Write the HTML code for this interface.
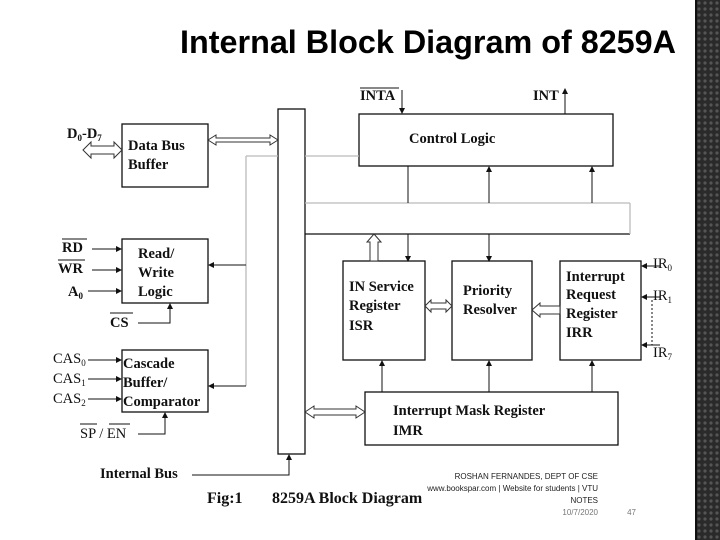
<!DOCTYPE html>
<html><head><meta charset="utf-8"><style>
html,body{margin:0;padding:0;background:#fff;width:720px;height:540px;overflow:hidden}
svg{display:block}
.t{font-family:"Liberation Serif",serif;font-weight:bold;font-size:14.5px;fill:#111}
</style></head><body>
<svg width="720" height="540" viewBox="0 0 720 540" xmlns="http://www.w3.org/2000/svg">
<defs>
<pattern id="p" width="6" height="6" patternUnits="userSpaceOnUse">
<rect width="6" height="6" fill="#2a2a2a"/><circle cx="3" cy="3" r="1.6" fill="#555"/></pattern>
<marker id="a" markerWidth="6" markerHeight="6" refX="5" refY="3" orient="auto"><path d="M0,0 L6,3 L0,6z" fill="#111"/></marker>
</defs>
<rect x="697" y="0" width="23" height="540" fill="url(#p)"/>
<rect x="695" y="0" width="2" height="540" fill="#111"/>
<text x="428" y="53" text-anchor="middle" font-family="Liberation Sans,sans-serif" font-size="32" font-weight="bold" fill="#000" textLength="496" lengthAdjust="spacingAndGlyphs">Internal Block Diagram of 8259A</text>

<g fill="none" stroke="#111" stroke-width="1.3">
<rect x="122" y="124" width="86" height="63"/>
<rect x="122" y="239" width="86" height="64"/>
<rect x="122" y="350" width="86" height="62"/>
<rect x="278" y="109" width="27" height="345"/>
<rect x="359" y="114" width="254" height="52"/>
<rect x="343" y="261" width="82" height="99"/>
<rect x="452" y="261" width="80" height="99"/>
<rect x="560" y="261" width="81" height="99"/>
<rect x="365" y="392" width="253" height="53"/>
<line x1="305" y1="234" x2="630" y2="234"/>
</g>
<g fill="none" stroke="#bbb" stroke-width="1.3">
<line x1="305" y1="203" x2="630" y2="203"/>
<line x1="630" y1="203" x2="630" y2="234"/>
<line x1="305" y1="156" x2="359" y2="156"/>
<line x1="246" y1="156" x2="278" y2="156"/>
<line x1="246" y1="156" x2="246" y2="386"/>
</g>
<g stroke="#111" stroke-width="1" fill="none" marker-end="url(#a)">
<line x1="246" y1="265" x2="209" y2="265"/>
<line x1="246" y1="386" x2="209" y2="386"/>
<line x1="408" y1="234" x2="408" y2="261"/>
<line x1="489" y1="234" x2="489" y2="261"/>
<line x1="489" y1="203" x2="489" y2="167"/>
<line x1="592" y1="203" x2="592" y2="167"/>
<line x1="382" y1="392" x2="382" y2="361"/>
<line x1="489" y1="392" x2="489" y2="361"/>
<line x1="592" y1="392" x2="592" y2="361"/>
<line x1="402" y1="90" x2="402" y2="113"/>
<line x1="565" y1="114" x2="565" y2="89"/>
<line x1="92" y1="249" x2="121" y2="249"/>
<line x1="92" y1="270" x2="121" y2="270"/>
<line x1="88" y1="291" x2="121" y2="291"/>
<polyline points="138,323 170,323 170,304"/>
<polyline points="138,434 165,434 165,413"/>
<polyline points="192,475 289,475 289,455"/>
<line x1="88" y1="360" x2="121" y2="360"/>
<line x1="88" y1="379" x2="121" y2="379"/>
<line x1="88" y1="399" x2="121" y2="399"/>
<line x1="660" y1="266" x2="642" y2="266"/>
<line x1="660" y1="297" x2="642" y2="297"/>
<line x1="660" y1="345" x2="642" y2="345"/>
</g>
<line x1="408" y1="166" x2="408" y2="203" stroke="#111"/>
<line x1="652" y1="300" x2="652" y2="345" stroke="#111" stroke-dasharray="2,2"/>
<g fill="#fff" stroke="#333" stroke-width="1">
<path d="M208,140 l8,-5 v3 h54 v-3 l8,5 l-8,5 v-3 h-54 v3z"/>
<path d="M83,150 l8,-8 v4 h23 v-4 l8,8 l-8,8 v-4 h-23 v4z"/>
<path d="M305,412 l9,-6 v3 h42 v-3 l9,6 l-9,6 v-3 h-42 v3z"/>
<path d="M425,306 l6,-6 v3 h15 v-3 l6,6 l-6,6 v-3 h-15 v3z"/>
<path d="M532,310 l8,-7 v3 h20 v8 h-20 v3z"/>
<path d="M374,234 l7,8 h-3 v19 h-8 v-19 h-3z"/>
</g>
<g class="t">
<text x="67" y="138">D<tspan font-size="9" dy="3">0</tspan><tspan dy="-3">-D</tspan><tspan font-size="9" dy="3">7</tspan></text>
<text x="128" y="150">Data Bus</text><text x="128" y="169">Buffer</text>
<text x="138" y="258">Read/</text><text x="138" y="277">Write</text><text x="138" y="296">Logic</text>
<text x="62" y="252">RD</text><line x1="62" y1="239" x2="87" y2="239" stroke="#111"/>
<text x="58" y="273">WR</text><line x1="58" y1="260" x2="85" y2="260" stroke="#111"/>
<text x="68" y="296">A<tspan font-size="9" dy="3">0</tspan></text>
<text x="110" y="327">CS</text><line x1="110" y1="313" x2="133" y2="313" stroke="#111"/>
<text x="123" y="368">Cascade</text><text x="123" y="387">Buffer/</text><text x="123" y="406">Comparator</text>
<text x="53" y="363" font-weight="normal">CAS<tspan font-size="9" dy="3">0</tspan></text>
<text x="53" y="383" font-weight="normal">CAS<tspan font-size="9" dy="3">1</tspan></text>
<text x="53" y="403" font-weight="normal">CAS<tspan font-size="9" dy="3">2</tspan></text>
<text x="80" y="438" font-weight="normal">SP / EN</text>
<line x1="80" y1="424" x2="97" y2="424" stroke="#111"/><line x1="109" y1="424" x2="130" y2="424" stroke="#111"/>
<text x="100" y="478">Internal Bus</text>
<text x="360" y="100">INTA</text><line x1="360" y1="88" x2="399" y2="88" stroke="#111"/>
<text x="533" y="100">INT</text>
<text x="409" y="143">Control Logic</text>
<text x="349" y="291">IN Service</text><text x="349" y="310">Register</text><text x="349" y="330">ISR</text>
<text x="463" y="295">Priority</text><text x="463" y="314">Resolver</text>
<text x="566" y="281">Interrupt</text><text x="566" y="299">Request</text><text x="566" y="318">Register</text><text x="566" y="337">IRR</text>
<text x="393" y="415">Interrupt Mask Register</text><text x="393" y="435">IMR</text>
<text x="653" y="268" font-weight="normal">IR<tspan font-size="9" dy="3">0</tspan></text>
<text x="653" y="300" font-weight="normal">IR<tspan font-size="9" dy="3">1</tspan></text>
<text x="653" y="357" font-weight="normal">IR<tspan font-size="9" dy="3">7</tspan></text>
<text x="207" y="503" font-size="16">Fig:1</text><text x="272" y="503" font-size="16">8259A  Block Diagram</text>
</g>
<g font-family="Liberation Sans,sans-serif" font-size="8" fill="#222" text-anchor="end">
<text x="598" y="479">ROSHAN FERNANDES, DEPT OF CSE</text>
<text x="598" y="491">www.bookspar.com | Website for students | VTU</text>
<text x="598" y="503">NOTES</text>
<text x="598" y="515" fill="#777">10/7/2020</text>
<text x="636" y="515" fill="#777">47</text>
</g>
</svg>
</body></html>
